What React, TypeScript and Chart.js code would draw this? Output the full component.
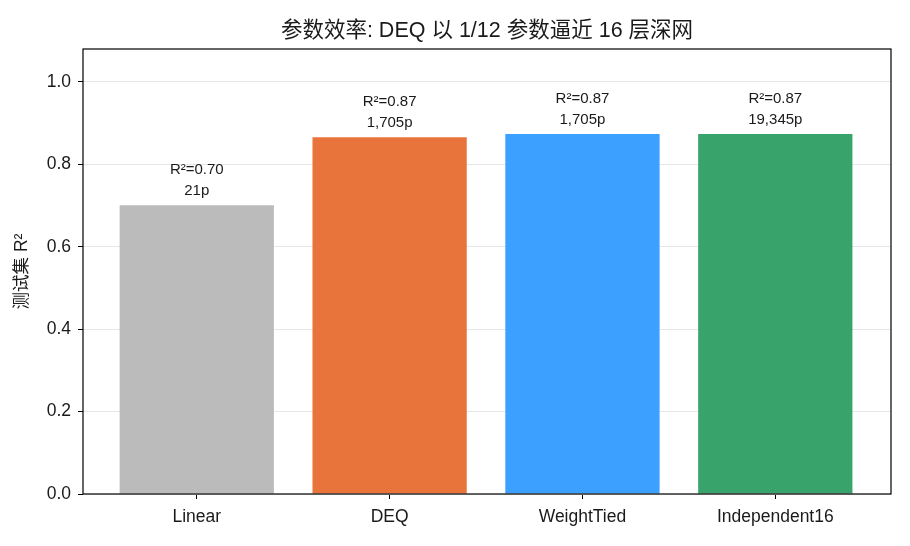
import { Chart, registerables } from 'chart.js';
import { useEffect, useRef } from 'react';

Chart.register(...registerables);

const FONT = '"Liberation Sans", "Noto Sans CJK SC", sans-serif';

const categories = ['Linear', 'DEQ', 'WeightTied', 'Independent16'];
const r2Values = [0.701, 0.866, 0.874, 0.874];
const r2Labels = ['R²=0.70', 'R²=0.87', 'R²=0.87', 'R²=0.87'];
const paramLabels = ['21p', '1,705p', '1,705p', '19,345p'];
const barColors = ['#bbbbbb', '#e8743c', '#3ba0ff', '#38a46c'];
const yTicks = [0, 0.2, 0.4, 0.6, 0.8, 1.0];

const titleText = '参数效率: DEQ 以 1/12 参数逼近 16 层深网';
const yTitle = '测试集 R²';

// titles, frame and bar annotations
const decorPlugin = {
    id: 'decor',
    afterDraw(chart: Chart) {
        const { ctx, chartArea } = chart;
        const x = chart.scales.x;
        const y = chart.scales.y;
        ctx.save();

        ctx.strokeStyle = '#000';
        ctx.lineWidth = 1.2;
        ctx.strokeRect(chartArea.left, chartArea.top, chartArea.right - chartArea.left, chartArea.bottom - chartArea.top);

        ctx.fillStyle = '#1a1a1a';
        ctx.textAlign = 'center';
        ctx.textBaseline = 'middle';
        ctx.font = `21.5px ${FONT}`;
        ctx.fillText(titleText, (chartArea.left + chartArea.right) / 2, 31);

        ctx.save();
        ctx.translate(22, (chartArea.top + chartArea.bottom) / 2);
        ctx.rotate(-Math.PI / 2);
        ctx.font = `17.5px ${FONT}`;
        ctx.fillText(yTitle, 0, 0);
        ctx.restore();

        ctx.font = `15px ${FONT}`;
        r2Values.forEach((v, i) => {
            const px = x.getPixelForValue(i);
            const py = y.getPixelForValue(v);
            ctx.fillText(r2Labels[i], px, py - 35);
            ctx.fillText(paramLabels[i], px, py - 14);
        });
        ctx.restore();
    },
};

export default function App() {
    const canvasRef = useRef<HTMLCanvasElement | null>(null);
    const chartRef = useRef<Chart | null>(null);

    useEffect(() => {
        document.body.style.margin = '0';
        if (!canvasRef.current) return;

        chartRef.current = new Chart(canvasRef.current, {
            type: 'bar',
            data: {
                datasets: [
                    {
                        data: r2Values.map((v, i) => ({ x: i, y: v })),
                        backgroundColor: barColors,
                        borderWidth: 0,
                        barPercentage: 0.8,
                        categoryPercentage: 1,
                    },
                ],
            },
            options: {
                animation: false,
                responsive: false,
                layout: { padding: { top: 49, right: 19, left: 0, bottom: 0 } },
                plugins: {
                    legend: { display: false },
                    tooltip: { enabled: false },
                    title: { display: false },
                },
                scales: {
                    x: {
                        type: 'linear',
                        min: -0.59,
                        max: 3.6,
                        offset: false,
                        afterBuildTicks: (scale: any) => {
                            scale.ticks = categories.map((_, i) => ({ value: i }));
                        },
                        afterFit: (scale: any) => {
                            scale.height = 52;
                        },
                        ticks: {
                            callback: (v: any) => categories[v as number] ?? '',
                            color: '#1a1a1a',
                            font: { family: FONT, size: 17.5 },
                            padding: 8,
                            maxRotation: 0,
                        },
                        grid: {
                            offset: false,
                            drawOnChartArea: false,
                            tickColor: '#000',
                            tickLength: 5,
                        },
                        border: { display: false },
                    },
                    y: {
                        min: 0,
                        max: 1.08,
                        afterBuildTicks: (scale: any) => {
                            scale.ticks = yTicks.map((v) => ({ value: v }));
                        },
                        afterFit: (scale: any) => {
                            scale.width = 83;
                        },
                        ticks: {
                            callback: (v: any) => Number(v).toFixed(1),
                            color: '#1a1a1a',
                            font: { family: FONT, size: 17.5 },
                            padding: 7,
                        },
                        grid: {
                            color: '#e6e6e6',
                            tickColor: '#000',
                            tickLength: 5,
                        },
                        border: { display: false },
                    },
                },
            },
            plugins: [decorPlugin],
        });

        return () => {
            if (chartRef.current) {
                chartRef.current.destroy();
                chartRef.current = null;
            }
        };
    }, []);

    return (
        <div style={{ width: 910, height: 546 }}>
            <canvas ref={canvasRef} width='910' height='546'></canvas>
        </div>
    );
}
